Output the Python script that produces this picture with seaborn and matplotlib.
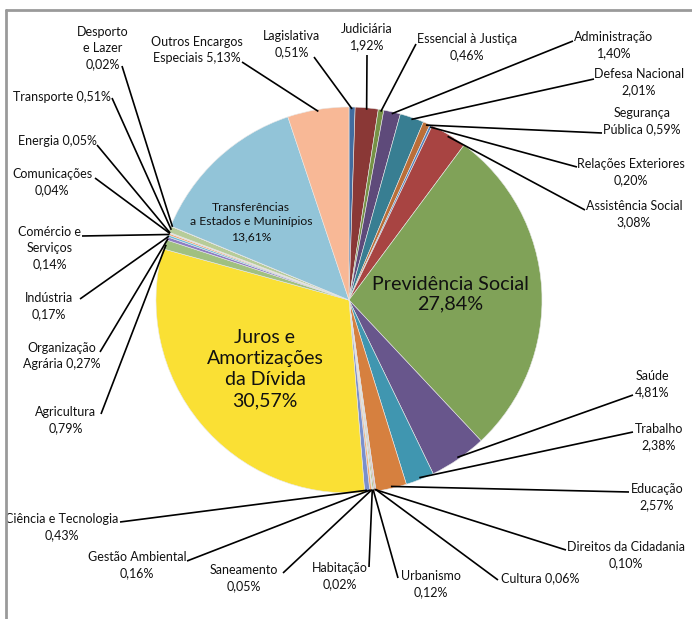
import numpy as np
import matplotlib.pyplot as plt
import seaborn as sns
from matplotlib.lines import Line2D

sns.set_theme(style="white")
plt.rcParams['font.family'] = ['Lato', 'DejaVu Sans']

# dados (ordem horária a partir do topo)
categorias = ["Lagislativa", "Judiciária", "Essencial à Justiça", "Administração",
              "Defesa Nacional", "Segurança Pública", "Relações Exteriores",
              "Assistência Social", "Previdência Social", "Saúde", "Trabalho",
              "Educação", "Cultura", "Direitos da Cidadania", "Urbanismo",
              "Habitação", "Saneamento", "Gestão Ambiental", "Ciência e Tecnologia",
              "Juros e Amortizações da Dívida", "Agricultura", "Organização Agrária",
              "Indústria", "Comércio e Serviços", "Comunicações", "Energia",
              "Transporte", "Desporto e Lazer", "Transferências a Estados e Muninípios",
              "Outros Encargos Especiais"]
valores = [0.51, 1.92, 0.46, 1.40, 2.01, 0.59, 0.20, 3.08, 27.84, 4.81, 2.38,
           2.57, 0.06, 0.10, 0.12, 0.02, 0.05, 0.16, 0.43, 30.57, 0.79, 0.27,
           0.17, 0.14, 0.04, 0.05, 0.51, 0.02, 13.61, 5.13]
rotulos = ["Lagislativa\n{}", "Judiciária\n{}", "Essencial à Justiça\n{}",
           "Administração\n{}", "Defesa Nacional\n{}", "Segurança\nPública {}",
           "Relações Exteriores\n{}", "Assistência Social\n{}",
           "Previdência Social\n{}", "Saúde\n{}", "Trabalho\n{}", "Educação\n{}",
           "Cultura {}", "Direitos da Cidadania\n{}", "Urbanismo\n{}",
           "Habitação\n{}", "Saneamento\n{}", "Gestão Ambiental\n{}",
           "Ciência e Tecnologia\n{}", "Juros e\nAmortizações\nda Dívida\n{}",
           "Agricultura\n{}", "Organização\nAgrária {}", "Indústria\n{}",
           "Comércio e\nServiços\n{}", "Comunicações\n{}", "Energia {}",
           "Transporte {}", "Desporto\ne Lazer\n{}",
           "Transferências\na Estados e Muninípios\n{}", "Outros Encargos\nEspeciais {}"]
cores = ["#426CA0", "#8A3836", "#769246", "#5E4A7A", "#387E92", "#BA6E38",
         "#5080BE", "#A84442", "#80A258", "#68568C", "#4096B0", "#D6803F",
         "#7C9BD0", "#D08A88", "#A9C27E", "#9C88BE", "#7CC0D6", "#F2A86E",
         "#7A8FCC", "#FAE034", "#A0C080", "#8E7CC3", "#6CBAD8", "#F4A46A",
         "#8EA9DB", "#E39E9B", "#B7CC99", "#A898C8", "#92C4D8", "#F8B896"]

# layout dos rótulos (pixels): centro do texto, ponto de ligação, tamanho
W, H = 692, 619
cx, cy, R = 349, 300, 193
pos_texto = [(292, 44), (367, 37), (467, 47), (614, 45), (639, 82), (642, 121),
             (631, 172), (634, 214), (450, 294), (652, 384), (659, 437),
             (657, 497), (540, 578), (626, 555), (431, 584), (340, 576),
             (244, 578), (137, 565), (62, 527), (265, 369), (66, 420),
             (62, 356), (49, 306), (50, 248), (52, 182), (57, 141), (62, 97),
             (103, 48), (251, 222), (197, 50)]
pos_ligacao = [(314, 57), (367, 55), (416, 44), (573, 41), (594, 79), (602, 133),
               (577, 167), (585, 210), None, (633, 395), (633, 432), (629, 492),
               (498, 580), (566, 550), (398, 578), (369, 567), (283, 573),
               (187, 561), (120, 522), None, (101, 414), (100, 352), (80, 299),
               (82, 236), (95, 178), (97, 145), (112, 98), (122, 66), None,
               (242, 62)]
tamanhos = {8: 14.2, 19: 14.0, 28: 8.7}
espacos = {8: 1.2, 19: 1.3, 28: 1.4}


def px(x, y):
    return (x - cx) / R, (cy - y) / R


fig = plt.figure(figsize=(W / 100, H / 100), dpi=100)
ax = fig.add_axes([0, 0, 1, 1])
ax.pie(valores, colors=cores, startangle=90, counterclock=False, radius=1,
       center=(0, 0), wedgeprops=dict(linewidth=0.4, edgecolor="#e8e8e8"))
ax.set_xlim(-cx / R, (W - cx) / R)
ax.set_ylim(-(H - cy) / R, cy / R)
ax.set_aspect('equal')
ax.axis('off')

total = sum(valores)
acum = np.cumsum([0] + valores[:-1])
for i, v in enumerate(valores):
    pct = f"{v:.2f}%".replace(".", ",")
    texto = rotulos[i].format(pct)
    tx, ty = px(*pos_texto[i])
    ax.text(tx, ty, texto, ha='center', va='center', multialignment='center',
            fontsize=tamanhos.get(i, 9.0), color="#111111",
            linespacing=espacos.get(i, 1.4))
    if pos_ligacao[i] is not None:
        ang = np.deg2rad(360 * (acum[i] + v / 2) / total)
        x0, y0 = np.sin(ang) * 0.99, np.cos(ang) * 0.99
        x1, y1 = px(*pos_ligacao[i])
        ax.plot([x0, x1], [y0, y1], color="black", lw=1.2, solid_capstyle='butt')

# moldura parcial do gráfico
fig.add_artist(Line2D([6 / W, 1], [1 - 10 / H, 1 - 10 / H], color="#9a9a9a", lw=2))
fig.add_artist(Line2D([6 / W, 6 / W], [0, 1 - 10 / H], color="#9a9a9a", lw=2))

fig.savefig("out.png", dpi=100)
